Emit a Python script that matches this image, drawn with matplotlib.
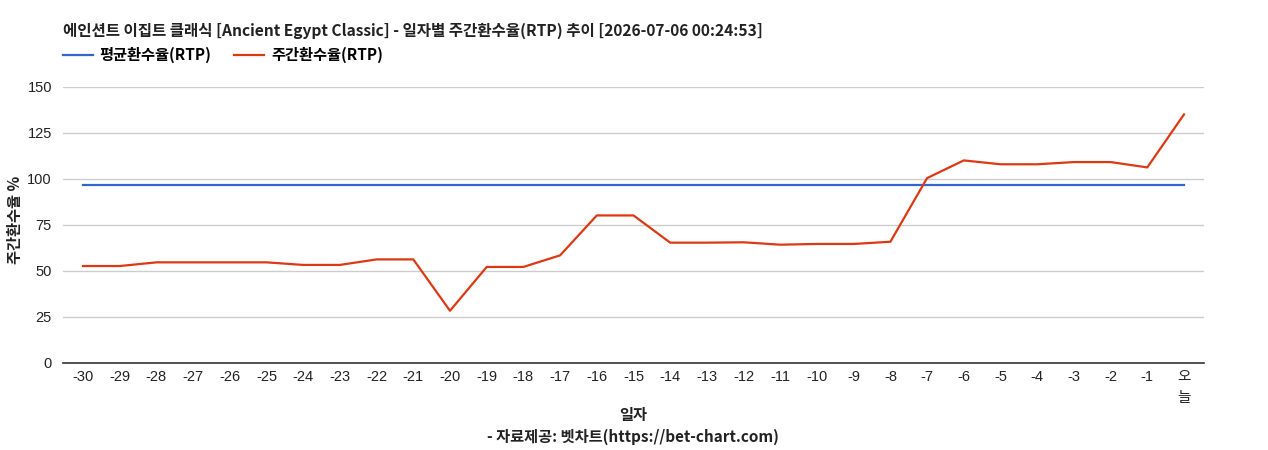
import matplotlib
matplotlib.use("Agg")
from matplotlib import pyplot as plt

# --- data ---
days = [str(d) for d in range(-30, 0)] + ["오\n늘"]
weekly_rtp = [52.7, 52.7, 54.7, 54.7, 54.7, 54.7, 53.3, 53.3, 56.3, 56.3,
              28.4, 52.2, 52.2, 58.5, 80.2, 80.2, 65.4, 65.4, 65.6, 64.3,
              64.7, 64.7, 65.9, 100.5, 110.1, 108.0, 108.0, 109.2, 109.2, 106.3,
              135.1]
avg_rtp = [96.7] * len(days)
y_ticks = [0, 25, 50, 75, 100, 125, 150]

title = "에인션트 이집트 클래식 [Ancient Egypt Classic] - 일자별 주간환수율(RTP) 추이 [2026-07-06 00:24:53]"
legend_labels = ["평균환수율(RTP)", "주간환수율(RTP)"]

KR = ["Noto Sans CJK KR", "DejaVu Sans"]
TICK = ["Liberation Sans", "Noto Sans CJK KR"]

W, H = 1268, 450
fig = plt.figure(figsize=(W / 100, H / 100), dpi=100)
ax = fig.add_axes([63 / W, 1 - 363 / H, (1204 - 63) / W, (363 - 87) / H])

x = list(range(len(days)))
l1, = ax.plot(x, avg_rtp, color="#3366cc", lw=1.6)
l2, = ax.plot(x, weekly_rtp, color="#dc3912", lw=1.6)

ax.set_xlim(-0.545, len(days) - 1 + 0.545)
ax.set_ylim(0, 150)
ax.set_yticks(y_ticks)
ax.set_xticks(x)
ax.set_xticklabels(days, family=TICK, fontsize=10.5, linespacing=1.6)
ax.set_yticklabels([str(v) for v in y_ticks], family=TICK, fontsize=10.5)
ax.tick_params(axis="both", length=0, colors="#222222")
ax.tick_params(axis="y", pad=8)
ax.tick_params(axis="x", pad=5)

ax.grid(axis="y", color="#cccccc", lw=1)
ax.set_axisbelow(True)
for side in ("top", "right", "left"):
    ax.spines[side].set_visible(False)
ax.spines["bottom"].set_color("#333333")
ax.spines["bottom"].set_linewidth(1.2)
ax.spines["bottom"].set_zorder(5)

# title, legend, axis labels
fig.text(63 / W, 1 - 31 / H, title, family=KR, fontsize=11.2, fontweight="bold",
         va="center", ha="left", color="#222222")
fig.legend([l1, l2], legend_labels, loc="center left",
           bbox_to_anchor=(49 / W, 1 - 55 / H), ncol=2, frameon=False,
           prop={"family": KR, "size": 11, "weight": "bold"},
           handlelength=1.95, handletextpad=0.45, columnspacing=1.5)
fig.text(15 / W, 1 - 220 / H, "주간환수율 %", family=KR, fontsize=11,
         fontweight="bold", rotation=90, va="center", ha="center", color="#222222")
fig.text(633 / W, 1 - 415 / H, "일자", family=KR, fontsize=11,
         fontweight="bold", va="center", ha="center", color="#222222")
fig.text(633 / W, 1 - 437 / H, "- 자료제공: 벳차트(https://bet-chart.com)", family=KR,
         fontsize=11, fontweight="bold", va="center", ha="center", color="#222222")

fig.savefig("out.png", dpi=100)
